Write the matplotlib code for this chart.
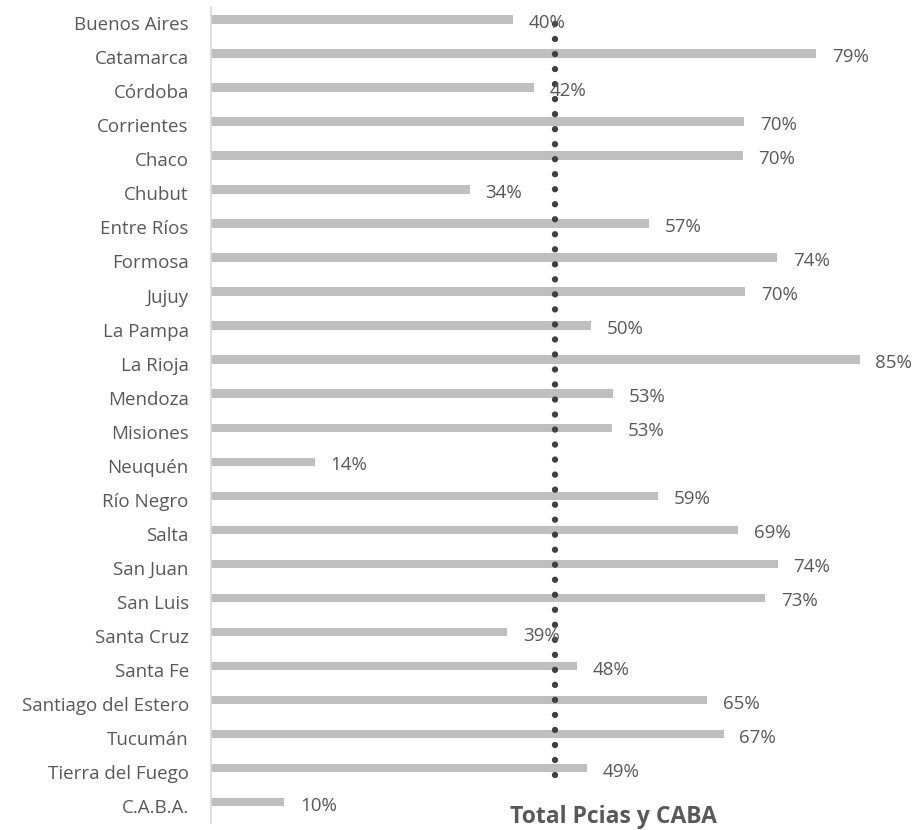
import matplotlib
matplotlib.use("Agg")
import matplotlib.pyplot as plt

plt.rcParams['font.family'] = ['Open Sans', 'DejaVu Sans']

provinces = ["Buenos Aires", "Catamarca", "Córdoba", "Corrientes", "Chaco", "Chubut",
             "Entre Ríos", "Formosa", "Jujuy", "La Pampa", "La Rioja", "Mendoza",
             "Misiones", "Neuquén", "Río Negro", "Salta", "San Juan", "San Luis",
             "Santa Cruz", "Santa Fe", "Santiago del Estero", "Tucumán",
             "Tierra del Fuego", "C.A.B.A."]
values = [39.6, 79.3, 42.3, 69.9, 69.7, 33.9, 57.4, 74.2, 70.0, 49.8, 85.0, 52.7,
          52.6, 13.6, 58.6, 69.1, 74.3, 72.6, 38.8, 48.0, 65.0, 67.2, 49.3, 9.6]
total_value = 45.1
total_label = "Total Pcias y CABA"

TEXT = "#595959"
FS = 13.5
fig = plt.figure(figsize=(9.15, 8.3), dpi=100)
ax = fig.add_axes([211/915, 7/830, 1 - 211/915, 816/830])

ypos = list(range(len(provinces)))
ax.barh(ypos, values, height=0.25, color="#BFBFBF", zorder=2)
for y, v in zip(ypos, values):
    ax.annotate(f"{v:.0f}%", xy=(v, y), xytext=(11.3, -6.2), textcoords="offset points",
                va="baseline", ha="left", fontsize=FS, color=TEXT, zorder=4)
for y, name in zip(ypos, provinces):
    ax.annotate(name, xy=(0, y), xycoords=("axes fraction", "data"),
                xytext=(-16, -7.8), textcoords="offset points",
                va="baseline", ha="right", fontsize=FS, color=TEXT,
                annotation_clip=False)

ax.plot([total_value, total_value], [0.14, 22.62], color="#404040", lw=4.6,
        linestyle=(0, (0.001, 2.35)), dash_capstyle="round", zorder=3)

ax.set_xlim(0, 704/7.63)
ax.set_ylim(23.617, -0.367)
ax.set_yticks([])
ax.set_xticks([])
for s in ["top", "right", "bottom"]:
    ax.spines[s].set_visible(False)
ax.spines["left"].set_color("#D9D9D9")
ax.spines["left"].set_linewidth(1.2)

fig.text(613/915, 1 - 823/830, total_label, ha="center", va="baseline",
         fontsize=16.5, fontweight="bold", color=TEXT)

fig.savefig("out.png", dpi=100)
